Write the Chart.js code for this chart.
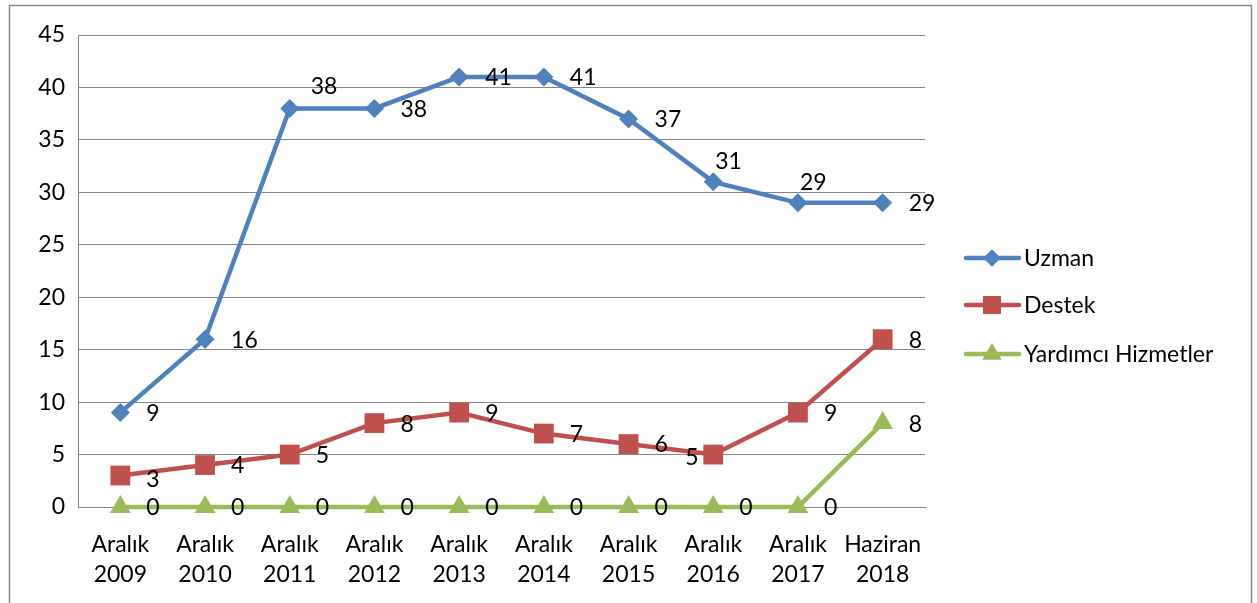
<!DOCTYPE html>
<html>
<head>
<meta charset="utf-8">
<script src="https://cdn.jsdelivr.net/npm/chart.js@4/dist/chart.umd.min.js"></script>
<style>
  html, body { margin: 0; padding: 0; background: #fff; }
  #wrap { width: 1257px; height: 603px; position: relative; }
</style>
</head>
<body>
<div id="wrap"><canvas id="chart" width="1257" height="603"></canvas></div>
<script>
// categories
const categories = [
    ["Aralık", "2009"], ["Aralık", "2010"], ["Aralık", "2011"], ["Aralık", "2012"],
    ["Aralık", "2013"], ["Aralık", "2014"], ["Aralık", "2015"], ["Aralık", "2016"],
    ["Aralık", "2017"], ["Haziran", "2018"]
];
const seriesNames = ["Uzman", "Destek", "Yardımcı Hizmetler"];
const uzman = [9, 16, 38, 38, 41, 41, 37, 31, 29, 29];
const destek = [3, 4, 5, 8, 9, 7, 6, 5, 9, 16];
const yardimci = [0, 0, 0, 0, 0, 0, 0, 0, 0, 8];
// labels as printed on the chart (last Destek point shows 8)
const uzmanLabels = [9, 16, 38, 38, 41, 41, 37, 31, 29, 29];
const destekLabels = [3, 4, 5, 8, 9, 7, 6, 5, 9, 8];
const yardimciLabels = [0, 0, 0, 0, 0, 0, 0, 0, 0, 8];
const yTicks = [0, 5, 10, 15, 20, 25, 30, 35, 40, 45];

const FONT = "Lato, 'Liberation Sans', sans-serif";
const FSIZE = 23;
const colors = ['#4F81BD', '#C0504D', '#9BBB59'];
const styles = ['rectRot', 'rect', 'triangle'];
const radii = [9.5, 14, 12];

// label placement tweaks [dataset][index] -> [dx, dy]
const labelShift = {
    0: { 2: [-5, -23], 7: [-24, -21], 8: [-24, -21] },
    1: { 0: [0, 3], 7: [-54, 2] }
};

const borderPlugin = {
    id: 'frame',
    beforeDraw(chart) {
        const ctx = chart.ctx;
        ctx.save();
        ctx.fillStyle = '#fff';
        ctx.fillRect(0, 0, chart.width, chart.height);
        ctx.strokeStyle = '#898989';
        ctx.lineWidth = 1.5;
        ctx.strokeRect(9.5, 5.5, 1242, 620);
        ctx.restore();
    }
};

const labelPlugin = {
    id: 'pointLabels',
    afterDatasetsDraw(chart) {
        const ctx = chart.ctx;
        const all = [uzmanLabels, destekLabels, yardimciLabels];
        ctx.save();
        ctx.font = FSIZE + 'px ' + FONT;
        ctx.fillStyle = '#000';
        ctx.textAlign = 'left';
        ctx.textBaseline = 'middle';
        chart.data.datasets.forEach((ds, di) => {
            const meta = chart.getDatasetMeta(di);
            meta.data.forEach((pt, i) => {
                let dx = 26, dy = 1;
                const sh = labelShift[di] && labelShift[di][i];
                if (sh) { dx += sh[0]; dy += sh[1]; }
                ctx.fillText(String(all[di][i]), pt.x + dx, pt.y + dy);
            });
        });
        ctx.restore();
    }
};

const legendPlugin = {
    id: 'sideLegend',
    afterDraw(chart) {
        const ctx = chart.ctx;
        const ys = [258, 305, 354];
        ctx.save();
        seriesNames.forEach((name, i) => {
            const y = ys[i];
            ctx.strokeStyle = colors[i];
            ctx.lineWidth = 4.5;
            ctx.lineCap = 'round';
            ctx.beginPath();
            ctx.moveTo(966, y);
            ctx.lineTo(1019, y);
            ctx.stroke();
            ctx.fillStyle = colors[i];
            Chart.helpers.drawPoint(ctx, {pointStyle: styles[i], radius: radii[i] * 0.9, rotation: 0, borderWidth: 0}, 992, y);
            ctx.fill();
            ctx.fillStyle = '#000';
            ctx.font = FSIZE + 'px ' + FONT;
            ctx.textBaseline = 'middle';
            ctx.textAlign = 'left';
            ctx.fillText(name, 1024, y + 1);
        });
        ctx.restore();
    }
};

const sets = [uzman, destek, yardimci].map((d, i) => ({
    label: seriesNames[i],
    data: d,
    borderColor: colors[i],
    backgroundColor: colors[i],
    borderWidth: 4.5,
    pointStyle: styles[i],
    pointRadius: radii[i],
    pointHoverRadius: radii[i],
    pointBorderWidth: 0,
    clip: false,
    tension: 0
}));

new Chart(document.getElementById('chart').getContext('2d'), {
    type: 'line',
    data: { labels: categories, datasets: sets },
    options: {
        responsive: false,
        animation: false,
        layout: { padding: { left: 0, top: 35, right: 332, bottom: 0 } },
        plugins: { legend: { display: false }, tooltip: { enabled: false } },
        scales: {
            x: {
                offset: true,
                grid: { display: false, drawTicks: false },
                border: { color: '#868686', width: 1 },
                ticks: {
                    color: '#000', font: { family: FONT, size: FSIZE, lineHeight: 1.3 },
                    padding: 23, maxRotation: 0, autoSkip: false
                },
                afterFit: s => { s.height = 96; }
            },
            y: {
                min: 0, max: 45,
                afterBuildTicks: s => { s.ticks = yTicks.map(v => ({ value: v })); },
                grid: { color: '#868686', lineWidth: 1, drawTicks: false },
                border: { color: '#868686', width: 1 },
                ticks: { color: '#000', font: { family: FONT, size: FSIZE }, padding: 13 },
                afterFit: s => { s.width = 78; }
            }
        }
    },
    plugins: [borderPlugin, labelPlugin, legendPlugin]
});
</script>
</body>
</html>
